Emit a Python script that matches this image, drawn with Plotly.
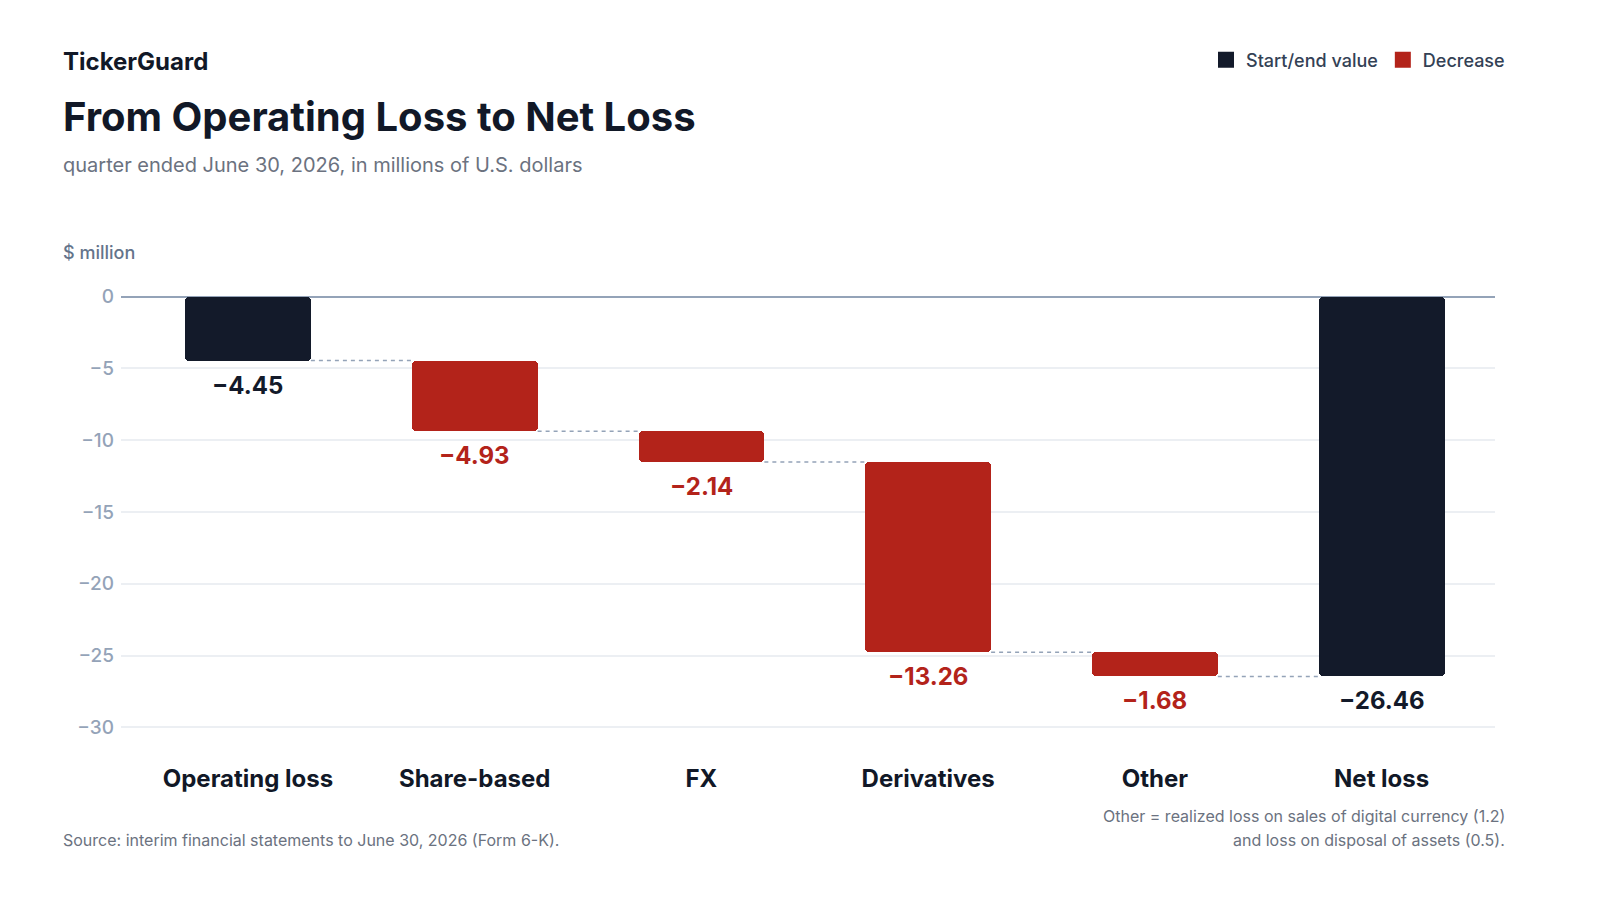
import plotly.graph_objects as go

# data
categories = ["Operating loss", "Share-based", "FX", "Derivatives", "Other", "Net loss"]
values = [-4.45, -4.93, -2.14, -13.26, -1.68, -26.46]
kinds = ["total", "delta", "delta", "delta", "delta", "total"]
y_ticks = [0, -5, -10, -15, -20, -25, -30]

DARK = "#131a2a"
RED = "#b3231a"
W, H = 1600, 900
L, R, T, B = 121, 105, 291, 167

def px(x):
    return (x - L) / (W - L - R)

def py(y):
    return (H - B - y) / (H - T - B)

# bases and cumulative levels
bases, levels = [], []
run = 0.0
for v, k in zip(values, kinds):
    if k == "total":
        bases.append(0.0)
        run = v
    else:
        bases.append(run)
        run = run + v
    levels.append(run)

fig = go.Figure()

bar_w = 0.555
for name, kind, color in [("Start/end value", "total", DARK), ("Decrease", "delta", RED)]:
    idx = [i for i, k in enumerate(kinds) if k == kind]
    fig.add_trace(go.Bar(
        x=[i for i in idx], y=[values[i] for i in idx], base=[bases[i] for i in idx],
        name=name, marker=dict(color=color, cornerradius=4, line_width=0),
        width=bar_w, hoverinfo="skip", showlegend=False,
    ))
    # legend entry with a larger square swatch
    fig.add_trace(go.Scatter(
        x=[None], y=[None], mode="markers", name=name,
        marker=dict(symbol="square", size=16, color=color),
    ))

# dashed connectors between bars
for i in range(len(values) - 1):
    fig.add_trace(go.Scatter(
        x=[i + bar_w / 2, i + 1 - bar_w / 2], y=[levels[i], levels[i]],
        mode="lines", line=dict(color="#94a3b8", width=1.5, dash="4px,4px"),
        showlegend=False, hoverinfo="skip",
    ))

# value labels below each bar
for i, v in enumerate(values):
    bottom = bases[i] + v
    fig.add_annotation(
        x=i, y=bottom, text=f"{v:.2f}".replace("-", "\u2212"), showarrow=False,
        yanchor="top", yshift=-8,
        font=dict(size=24, color=DARK if kinds[i] == "total" else RED, weight=700),
    )

texts = [
    dict(x=61, y=61, text="TickerGuard", size=24, color="#111827", weight=700, xa="left"),
    dict(x=61, y=116, text="From Operating Loss to Net Loss", size=40, color="#111827", weight=700, xa="left"),
    dict(x=61, y=165, text="quarter ended June 30, 2026, in millions of U.S. dollars", size=20, color="#6b7280", weight=400, xa="left"),
    dict(x=61, y=252, text="$ million", size=18, color="#64748b", weight=500, xa="left"),
    dict(x=61, y=840, text="Source: interim financial statements to June 30, 2026 (Form 6-K).", size=16, color="#6b7280", weight=400, xa="left"),
    dict(x=1507, y=816, text="Other = realized loss on sales of digital currency (1.2)", size=16, color="#6b7280", weight=400, xa="right"),
    dict(x=1507, y=840, text="and loss on disposal of assets (0.5).", size=16, color="#6b7280", weight=400, xa="right"),
]
for t in texts:
    fig.add_annotation(
        xref="paper", yref="paper", x=px(t["x"]), y=py(t["y"]), text=t["text"],
        showarrow=False, xanchor=t["xa"], yanchor="middle",
        font=dict(size=t["size"], color=t["color"], weight=t["weight"]),
    )

fig.update_layout(
    width=W, height=H,
    margin=dict(l=L, r=R, t=T, b=B),
    paper_bgcolor="white", plot_bgcolor="white",
    font=dict(family="Inter, sans-serif"),
    barmode="overlay", bargap=0,
    legend=dict(
        orientation="h", xref="paper", yref="paper", x=px(1510), y=py(60),
        xanchor="right", yanchor="middle",
        font=dict(size=18, color="#334155", weight=500),
        itemclick=False, itemdoubleclick=False, traceorder="normal",
    ),
    xaxis=dict(
        tickmode="array", tickvals=list(range(len(categories))), ticktext=categories,
        range=[-0.56, 5.5], showgrid=False, zeroline=False, showline=False,
        ticks="outside", ticklen=24, tickcolor="rgba(0,0,0,0)",
        tickfont=dict(size=24, color="#111827", weight=700),
    ),
    yaxis=dict(
        tickmode="array", tickvals=y_ticks,
        ticktext=[str(t).replace("-", "\u2212") for t in y_ticks],
        range=[-30.4, 0.4], showgrid=True, gridcolor="#eceff3", gridwidth=1.5,
        zeroline=True, zerolinecolor="#94a3b8", zerolinewidth=1.5,
        showline=False, ticks="", ticklabelstandoff=6,
        tickfont=dict(size=19, color="#94a3b8", weight=500),
    ),
)

fig.write_html(
    "out.html",
    config={"displayModeBar": False},
    post_script="document.body.style.margin='0';document.documentElement.style.overflow='hidden';",
)
